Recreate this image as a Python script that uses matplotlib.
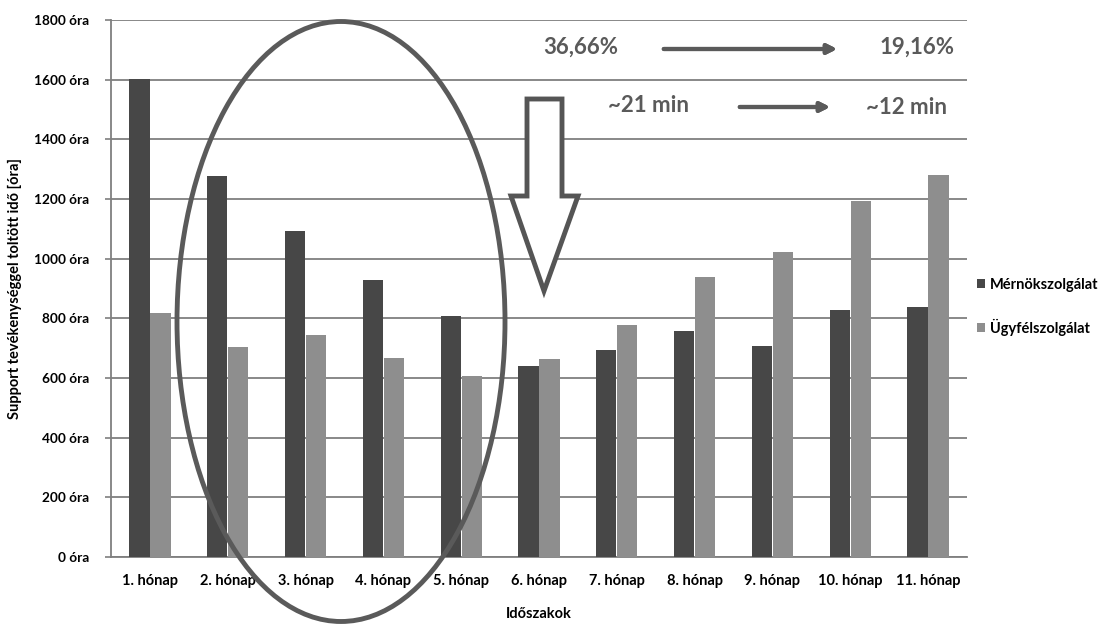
import numpy as np
import matplotlib
matplotlib.use("Agg")
import matplotlib.pyplot as plt
from matplotlib.patches import Ellipse, Polygon

# data
months = ["1. hónap", "2. hónap", "3. hónap", "4. hónap", "5. hónap", "6. hónap",
          "7. hónap", "8. hónap", "9. hónap", "10. hónap", "11. hónap"]
mernok = [1602, 1276, 1094, 929, 807, 640, 693, 758, 707, 828, 838]
ugyfel = [817, 703, 744, 666, 607, 664, 776, 940, 1021, 1192, 1279]
yticks = [0, 200, 400, 600, 800, 1000, 1200, 1400, 1600, 1800]

plt.rcParams["font.family"] = ["Lato", "DejaVu Sans"]

W, H = 1106, 624
fig = plt.figure(figsize=(W / 100, H / 100), dpi=100)
ax = fig.add_axes([111 / W, 1 - 557 / H, (967 - 111) / W, (557 - 20) / H])

x = np.arange(len(months))
bw = 0.26
dark = "#474747"
light = "#8e8e8e"
ax.bar(x - 0.135, mernok, bw, color=dark, label="Mérnökszolgálat", zorder=3)
ax.bar(x + 0.135, ugyfel, bw, color=light, label="Ügyfélszolgálat", zorder=3)

ax.set_xlim(-0.5, len(months) - 0.5)
ax.set_ylim(0, 1800)
ax.set_yticks(yticks)
ax.set_yticklabels([f"{v} óra" for v in yticks], fontsize=9.8, fontweight="bold")
ax.set_xticks(x)
ax.set_xticklabels(months, fontsize=10.5, fontweight="bold")
ax.tick_params(axis="x", length=0, pad=12)
ax.tick_params(axis="y", length=4, width=1.2, color="#7f7f7f", pad=12)
ax.grid(axis="y", color="#7f7f7f", linewidth=1.3, zorder=0)
for s in ["top", "right"]:
    ax.spines[s].set_visible(False)
for s in ["left", "bottom"]:
    ax.spines[s].set_color("#7f7f7f")
    ax.spines[s].set_linewidth(1.3)

ax.set_ylabel("Support tevékenységgel toltött idő [óra]", fontsize=10.5,
              fontweight="bold", labelpad=8)
ax.set_xlabel("Időszakok", fontsize=10.5, fontweight="bold", labelpad=14)

leg = ax.legend(loc="center left", bbox_to_anchor=(1.005, 0.466), frameon=False,
                prop={"weight": "bold", "size": 10.5}, handlelength=0.55,
                handleheight=0.55, handletextpad=0.3, labelspacing=1.85,
                borderaxespad=0)

# annotations (figure pixel positions)
def fx(px):
    return px / W


def fy(py):
    return 1 - py / H


tcol = "#5a5a5a"
fig.text(fx(581), fy(47), "36,66%", fontsize=16, fontweight="bold", color=tcol,
         ha="center", va="center")
fig.text(fx(917), fy(47), "19,16%", fontsize=16, fontweight="bold", color=tcol,
         ha="center", va="center")
fig.text(fx(648), fy(105), "~21 min", fontsize=16, fontweight="bold", color=tcol,
         ha="center", va="center")
fig.text(fx(907), fy(108), "~12 min", fontsize=16, fontweight="bold", color=tcol,
         ha="center", va="center")
for x0, x1, yy in [(661, 840, 49), (737, 833, 107)]:
    fig.add_artist(plt.annotate("", xy=(fx(x1), fy(yy)), xytext=(fx(x0), fy(yy)),
                                xycoords="figure fraction",
                                arrowprops=dict(arrowstyle="-|>", color=tcol, lw=3,
                                                mutation_scale=14)))

# block arrow pointing down
arrow_pts = [(527, 99), (562, 99), (562, 196), (578, 196), (544, 291),
             (511, 196), (527, 196)]
fig.add_artist(Polygon([(fx(a), fy(b)) for a, b in arrow_pts], closed=True,
                       transform=fig.transFigure, facecolor="white",
                       edgecolor="#555555", linewidth=3.5, zorder=5))

# ellipse around months 2-5
fig.add_artist(Ellipse((fx(341), fy(321.5)), width=328 / W, height=600 / H,
                       transform=fig.transFigure, fill=False,
                       edgecolor="#5a5a5a", linewidth=3.5, zorder=5))

fig.savefig("out.png", dpi=100)
